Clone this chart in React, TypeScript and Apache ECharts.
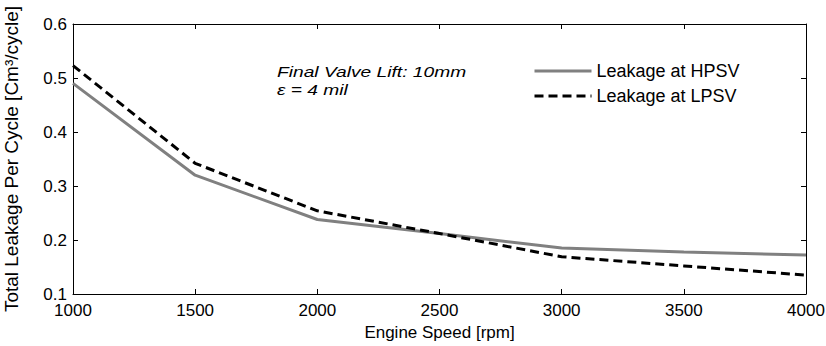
import React, { useEffect, useRef } from "react";
import * as echarts from "echarts";

const speeds = [1000, 1500, 2000, 2500, 3000, 3500, 4000];
const hpsv = [0.49, 0.32, 0.238, 0.212, 0.185, 0.178, 0.172];
const lpsv = [0.523, 0.342, 0.254, 0.212, 0.169, 0.152, 0.135];
const seriesNames = ["Leakage at HPSV", "Leakage at LPSV"];
const annotation = ["Final Valve Lift: 10mm", "\u03b5 = 4 mil"];

const FONT = "'Liberation Sans', Arial, sans-serif";

export default function App() {
  const ref = useRef<HTMLDivElement>(null);
  useEffect(() => {
    if (!ref.current) return;
    const chart = echarts.init(ref.current, undefined, { renderer: "svg" });
    const axisCommon = {
      axisLine: { show: true, lineStyle: { color: "#000", width: 1 } },
      axisTick: { show: true, inside: true, length: 5, lineStyle: { color: "#000" } },
      splitLine: { show: false },
    };
    chart.setOption({
      animation: false,
      backgroundColor: "#fff",
      textStyle: { fontFamily: FONT },
      grid: {
        left: 73,
        right: 20,
        top: 24,
        bottom: 52,
        containLabel: false,
        outerBoundsMode: "none",
      },
      xAxis: [
        {
          type: "value",
          min: 1000,
          max: 4000,
          interval: 500,
          position: "bottom",
          name: "Engine Speed [rpm]",
          nameLocation: "middle",
          nameGap: 28,
          nameTextStyle: { fontSize: 17, color: "#000", fontFamily: FONT },
          axisLabel: {
            fontSize: 17,
            color: "#000",
            margin: 8,
            fontFamily: FONT,
            formatter: (v: number) => String(v),
          },
          ...axisCommon,
        },
        {
          type: "value",
          min: 1000,
          max: 4000,
          interval: 500,
          position: "top",
          axisLabel: { show: false },
          ...axisCommon,
        },
      ],
      yAxis: [
        {
          type: "value",
          min: 0.1,
          max: 0.6,
          interval: 0.1,
          position: "left",
          name: "Total Leakage Per Cycle [Cm\u00b3/cycle]",
          nameLocation: "middle",
          nameGap: 52,
          nameTextStyle: { fontSize: 19, color: "#000", fontFamily: FONT },
          axisLabel: {
            fontSize: 17,
            color: "#000",
            margin: 6,
            fontFamily: FONT,
            formatter: (v: number) => v.toFixed(1),
          },
          ...axisCommon,
        },
        {
          type: "value",
          min: 0.1,
          max: 0.6,
          interval: 0.1,
          position: "right",
          axisLabel: { show: false },
          ...axisCommon,
        },
      ],
      legend: {
        orient: "vertical",
        left: 528,
        top: 57,
        itemWidth: 57,
        itemHeight: 17,
        itemGap: 7,
        itemStyle: { opacity: 0 },
        lineStyle: { width: 3 },
        textStyle: { fontSize: 18, color: "#000", fontFamily: FONT },
        data: seriesNames,
      },
      graphic: [
        {
          type: "text",
          x: 277,
          y: 72,
          scaleX: 1.28,
          style: {
            text: annotation[0],
            font: `italic 15px ${FONT}`,
            fill: "#000",
            verticalAlign: "middle",
          },
        },
        {
          type: "text",
          x: 277,
          y: 89.5,
          scaleX: 1.28,
          style: {
            text: annotation[1],
            font: `italic 15px ${FONT}`,
            fill: "#000",
            verticalAlign: "middle",
          },
        },
      ],
      series: [
        {
          name: seriesNames[0],
          type: "line",
          data: speeds.map((s, i) => [s, hpsv[i]]),
          symbol: "none",
          showSymbol: false,
          lineStyle: { color: "#808080", width: 3 },
          itemStyle: { color: "#808080" },
        },
        {
          name: seriesNames[1],
          type: "line",
          data: speeds.map((s, i) => [s, lpsv[i]]),
          symbol: "none",
          showSymbol: false,
          lineStyle: { color: "#000", width: 3, type: [9, 5] },
          itemStyle: { color: "#000" },
        },
      ],
    });
    return () => chart.dispose();
  }, []);
  return (
    <div
      ref={ref}
      style={{ position: "absolute", left: 0, top: 0, width: 826, height: 346 }}
    />
  );
}
